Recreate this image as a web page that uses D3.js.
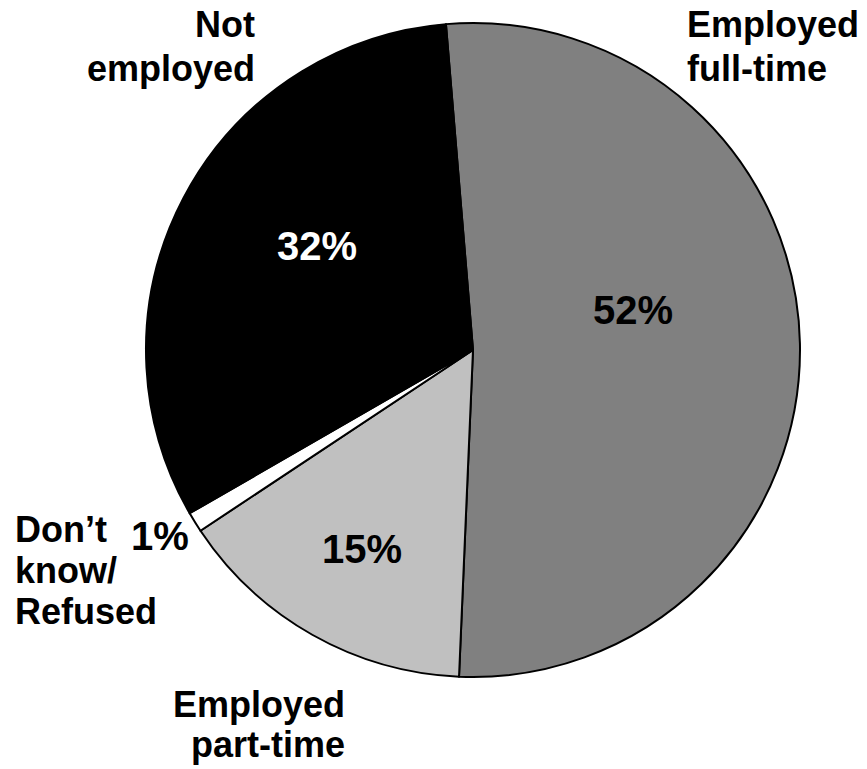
<!DOCTYPE html>
<html>
<head>
<meta charset="utf-8">
<script src="https://cdn.jsdelivr.net/npm/d3@7"></script>
<style>
  html, body { margin: 0; padding: 0; background: #fff; }
  svg { display: block; }
  text { font-family: "Liberation Sans", Arial, sans-serif; font-weight: bold; }
</style>
</head>
<body>
<svg id="chart" width="867" height="769"></svg>
<script>
// ---- data ----
const categories = ["Employed full-time", "Employed part-time", "Don't know/Refused", "Not employed"];
const values = [52, 15, 1, 32];
const pctLabels = ["52%", "15%", "1%", "32%"];
const catLines = [["Employed", "full-time"], ["Employed", "part-time"], ["Don\u2019t", "know/", "Refused"], ["Not", "employed"]];
const colors = ["#808080", "#c0c0c0", "#ffffff", "#000000"];

// ---- layout ----
const W = 867, H = 769;
const cx = 473, cy = 350, R = 327;
const startDeg = -4.75;

const svg = d3.select("#chart");
const g = svg.append("g").attr("transform", `translate(${cx},${cy})`);

const pie = d3.pie().sort(null).value(d => d)
  .startAngle(startDeg * Math.PI / 180)
  .endAngle((startDeg + 360) * Math.PI / 180);
const arcs = pie(values);
const arc = d3.arc().innerRadius(0).outerRadius(R);

g.selectAll("path.slice").data(arcs).enter().append("path")
  .attr("class", "slice")
  .attr("d", arc)
  .attr("fill", (d, i) => colors[i])
  .attr("stroke", "#000")
  .attr("stroke-width", 2)
  .attr("stroke-linejoin", "round");

// percentage labels (absolute page positions)
const pctLayout = [
  { x: 633, y: 324, fill: "#000", anchor: "middle" },
  { x: 362, y: 563, fill: "#000", anchor: "middle" },
  { x: 160, y: 550, fill: "#000", anchor: "middle" },
  { x: 317, y: 260, fill: "#fff", anchor: "middle" }
];
svg.selectAll("text.pct").data(pctLabels).enter().append("text")
  .attr("class", "pct")
  .attr("x", (d, i) => pctLayout[i].x)
  .attr("y", (d, i) => pctLayout[i].y)
  .attr("text-anchor", (d, i) => pctLayout[i].anchor)
  .attr("fill", (d, i) => pctLayout[i].fill)
  .style("font-size", "40px")
  .text(d => d);

// category labels
const catLayout = [
  { x: 687, y: 37, anchor: "start", lh: 44 },
  { x: 345, y: 717, anchor: "end", lh: 40 },
  { x: 15, y: 542, anchor: "start", lh: 41 },
  { x: 255, y: 37, anchor: "end", lh: 44 }
];
catLines.forEach((lines, i) => {
  const L = catLayout[i];
  const t = svg.append("text")
    .attr("class", "cat")
    .attr("text-anchor", L.anchor)
    .attr("fill", "#000")
    .style("font-size", "36px");
  lines.forEach((ln, j) => {
    t.append("tspan").attr("x", L.x).attr("y", L.y + j * L.lh).text(ln);
  });
});
</script>
</body>
</html>
